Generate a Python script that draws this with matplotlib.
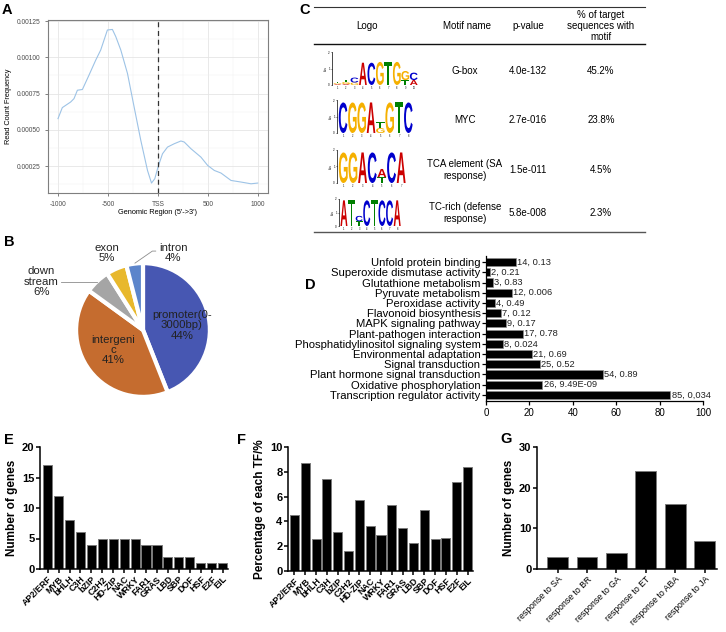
import matplotlib
matplotlib.use('Agg')
import matplotlib.pyplot as plt
from matplotlib.textpath import TextPath
from matplotlib.patches import PathPatch
from matplotlib.font_manager import FontProperties
from matplotlib.transforms import Affine2D

plt.rcParams['font.family'] = ['Liberation Sans', 'DejaVu Sans']

W, H = 726, 632

# ---- A: read count frequency around TSS ----
tss_pos = [-1000, -957, -873, -840, -806, -756, -690, -623, -573, -506, -456, -422,
           -372, -305, -239, -172, -105, -65, -32, 0, 45, 95, 162, 229, 262, 329,
           429, 496, 563, 630, 730, 830, 930, 997]
tss_freq = [0.000577, 0.000653, 0.000692, 0.000715, 0.000773, 0.000778, 0.000877,
            0.00098, 0.00105, 0.001188, 0.001192, 0.001142, 0.00105, 0.000888,
            0.000658, 0.000427, 0.00022, 0.000133, 0.000163, 0.000243, 0.000335,
            0.000381, 0.000404, 0.000423, 0.000416, 0.00037, 0.000312, 0.000255,
            0.00022, 0.000202, 0.000151, 0.00014, 0.000128, 0.000133]

# ---- B: peak annotation ----
pie_labels = ['promoter(0-\n3000bp)\n44%', 'intergeni\nc\n41%', 'down\nstream\n6%',
              'exon\n5%', 'intron\n4%']
pie_values = [44, 41, 6, 5, 4]
pie_colors = ['#4757b2', '#c56c2f', '#a5a5a5', '#e8b82c', '#5c85cb']

# ---- C: motif table ----
motif_names = ['G-box', 'MYC', 'TCA element (SA\nresponse)', 'TC-rich (defense\nresponse)']
motif_pvals = ['4.0e-132', '2.7e-016', '1.5e-011', '5.8e-008']
motif_pcts = ['45.2%', '23.8%', '4.5%', '2.3%']
logo_gbox = [[('A', 0.05), ('G', 0.06), ('T', 0.1)],
             [('A', 0.06), ('G', 0.12), ('T', 0.15)],
             [('G', 0.15), ('C', 0.3)],
             [('A', 1.35)], [('C', 1.35)], [('G', 1.4)], [('T', 1.4)], [('G', 1.4)],
             [('T', 0.3), ('G', 0.55)],
             [('A', 0.3), ('C', 0.45)]]
logo_myc = [[('C', 1.85)], [('G', 1.85)], [('G', 1.85)], [('A', 1.85)],
            [('G', 0.3), ('T', 0.35)],
            [('G', 1.85)], [('T', 1.85)], [('C', 1.85)]]
logo_tca = [[('G', 1.85)], [('G', 1.85)], [('A', 1.85)], [('C', 1.85)],
            [('T', 0.35), ('A', 0.5)],
            [('C', 1.85)], [('A', 1.85)]]
logo_tc = [[('A', 1.9)], [('T', 1.9)], [('T', 0.35), ('C', 0.4)],
           [('C', 1.9)], [('T', 1.9)], [('C', 1.9)], [('C', 1.9)], [('A', 1.9)]]
base_colors = {'A': '#cc0000', 'C': '#0000cc', 'G': '#f5b000', 'T': '#008000'}

# ---- D: enrichment ----
terms = ['Unfold protein binding', 'Superoxide dismutase activity', 'Glutathione metabolism',
         'Pyruvate metabolism', 'Peroxidase activity', 'Flavonoid biosynthesis',
         'MAPK signaling pathway', 'Plant-pathogen interaction',
         'Phosphatidylinositol signaling system', 'Environmental adaptation',
         'Signal transduction', 'Plant hormone signal transduction',
         'Oxidative phosphorylation', 'Transcription regulator activity']
term_counts = [14, 2, 3, 12, 4, 7, 9, 17, 8, 21, 25, 54, 26, 85]
term_pvals = ['0.13', '0.21', '0.83', '0.006', '0.49', '0.12', '0.17', '0.78', '0.024',
              '0.69', '0.52', '0.89', '9.49E-09', '0,034']

# ---- E / F: TF families ----
tf_families = ['AP2/ERF', 'MYB', 'bHLH', 'C3H', 'bZIP', 'C2H2', 'HD-ZIP', 'NAC', 'WRKY',
               'FAR1', 'GRAS', 'LBD', 'SBP', 'DOF', 'HSF', 'E2F', 'EIL']
tf_genes = [17, 12, 8, 6, 4, 5, 5, 5, 5, 4, 4, 2, 2, 2, 1, 1, 1]
tf_percent = [4.5, 8.7, 2.55, 7.45, 3.15, 1.6, 5.7, 3.6, 2.9, 5.3, 3.45, 2.25, 4.9,
              2.6, 2.65, 7.2, 8.35]

# ---- G: hormone responses ----
hormones = ['response to SA', 'response to BR', 'response to GA', 'response to ET',
            'response to ABA', 'response to JA']
hormone_genes = [3, 3, 4, 24, 16, 7]

fig = plt.figure(figsize=(W / 100, H / 100), dpi=100)


def px_axes(x0, y0, x1, y1):
    return fig.add_axes([x0 / W, 1 - y1 / H, (x1 - x0) / W, (y1 - y0) / H])


def panel_letter(x, y, s):
    fig.text(x / W, 1 - y / H, s, fontsize=10.5, fontweight='bold', va='center', ha='left')


# ---------------- A ----------------
ax = px_axes(48, 20, 268, 193)
ax.plot(tss_pos, tss_freq, color='#9dc3e6', lw=0.8)
ax.axvline(0, color='#333333', ls=(0, (4, 3)), lw=0.9)
ax.set_xlim(-1100, 1100)
ax.set_ylim(0.0000645, 0.001257)
ax.set_xticks([-1000, -500, 0, 500, 1000])
ax.set_xticklabels(['-1000', '-500', 'TSS', '500', '1000'])
ax.set_xticks([-750, -250, 250, 750], minor=True)
yt = [0.00025, 0.0005, 0.00075, 0.001, 0.00125]
ax.set_yticks(yt)
ax.set_yticklabels(['%.5f' % v for v in yt])
ax.set_yticks([0.000125, 0.000375, 0.000625, 0.000875, 0.001125], minor=True)
ax.grid(which='major', color='#e5e5e5', lw=0.6)
ax.grid(which='minor', color='#f0f0f0', lw=0.35)
ax.set_axisbelow(True)
for s in ax.spines.values():
    s.set_color('#7f7f7f')
    s.set_linewidth(0.8)
ax.tick_params(which='major', labelsize=4.8, colors='#4d4d4d', length=2, width=0.5)
ax.tick_params(which='minor', length=0)
ax.set_xlabel("Genomic Region (5'->3')", fontsize=5.3, labelpad=1)
ax.set_ylabel('Read Count Frequency', fontsize=5.3, labelpad=3)
panel_letter(2, 10, 'A')

# ---------------- B ----------------
ax = px_axes(40, 227, 246, 433)
ax.pie(pie_values, colors=pie_colors, startangle=90, counterclock=False,
       wedgeprops=dict(edgecolor='white', linewidth=3))
ax.set_xlim(-1.54, 1.54)
ax.set_ylim(-1.54, 1.54)
ax.set_aspect('equal')
lbl_xy = [(0.58, 0.07), (-0.45, -0.30), (-1.52, 0.72), (-0.54, 1.15), (0.45, 1.15)]
for (lx, ly), t in zip(lbl_xy, pie_labels):
    ax.text(lx, ly, t, ha='center', va='center', fontsize=8.2, color='#222222',
            linespacing=1.05)
ax.plot([-1.22, -0.69], [0.72, 0.72], color='#8c8c8c', lw=0.6)
ax.plot([0.19, 0.14, -0.12], [1.18, 1.18, 1.0], color='#8c8c8c', lw=0.6)
panel_letter(4, 242, 'B')

# ---------------- C ----------------
ax = px_axes(300, 0, 726, 240)
ax.set_xlim(300, 726)
ax.set_ylim(240, 0)
ax.axis('off')
ax.plot([314, 645], [6.5, 6.5], color='#333333', lw=0.8)
ax.plot([314, 645], [44, 44], color='#111111', lw=1.0)
ax.plot([314, 645], [232, 232], color='#555555', lw=1.0)
hdr_fs = 7
ax.text(367, 26, 'Logo', ha='center', va='center', fontsize=hdr_fs)
ax.text(467, 26, 'Motif name', ha='center', va='center', fontsize=hdr_fs)
ax.text(528, 26, 'p-value', ha='center', va='center', fontsize=hdr_fs)
ax.text(601, 26, '% of target\nsequences with\nmotif', ha='center', va='center',
        fontsize=hdr_fs, linespacing=1.15)
row_y = [71, 120, 170, 213]
for y, n, p, c in zip(row_y, motif_names, motif_pvals, motif_pcts):
    ax.text(465, y, n, ha='center', va='center', fontsize=hdr_fs, linespacing=1.2)
    ax.text(528, y, p, ha='center', va='center', fontsize=hdr_fs)
    ax.text(601, y, c, ha='center', va='center', fontsize=hdr_fs)

logo_fp = FontProperties(family='Liberation Sans', weight='bold')


def draw_logo(box, stacks):
    lax = px_axes(*box)
    n = len(stacks)
    for i, stack in enumerate(stacks):
        y = 0
        for ch, h in stack:
            tp = TextPath((0, 0), ch, size=1, prop=logo_fp)
            bb = tp.get_extents()
            tr = Affine2D().translate(-bb.x0, -bb.y0).scale(0.92 / bb.width, h / bb.height) \
                .translate(i + 1 - 0.46, y)
            lax.add_patch(PathPatch(tr.transform_path(tp), color=base_colors[ch], lw=0))
            y += h
    lax.set_xlim(0.35, n + 0.5)
    lax.set_ylim(0, 2)
    for s in ['top', 'right', 'bottom']:
        lax.spines[s].set_visible(False)
    lax.spines['left'].set_linewidth(0.5)
    lax.set_yticks([0, 1, 2])
    lax.set_xticks(range(1, n + 1))
    lax.tick_params(axis='y', labelsize=2.2, length=1, width=0.4, pad=0.5)
    lax.tick_params(axis='x', labelsize=1.8, length=0, pad=0.5)
    lax.set_ylabel('bits', fontsize=2.2, labelpad=0.5)
    lax.patch.set_alpha(0)


draw_logo((332, 52, 418, 85), logo_gbox)
draw_logo((337, 100, 413, 133), logo_myc)
draw_logo((337, 150, 406, 183), logo_tca)
draw_logo((339, 199, 401, 226), logo_tc)
panel_letter(299, 10, 'C')

# ---------------- D ----------------
ax = px_axes(486, 256, 703, 401)
ypos = list(range(len(terms)))
ax.barh(ypos, term_counts, height=0.8, color='black', edgecolor='#8c8c8c', lw=0.5)
for yv, c, p in zip(ypos, term_counts, term_pvals):
    ax.text(c + 0.5, yv, '%d, %s' % (c, p), va='center', ha='left', fontsize=6.7,
            color='#222222')
ax.set_ylim(len(terms) - 0.4, -0.6)
ax.set_xlim(0, 100)
ax.set_yticks(ypos)
ax.set_yticklabels(terms, fontsize=8.1)
ax.set_xticks([0, 20, 40, 60, 80, 100])
ax.tick_params(axis='x', labelsize=7, length=3, width=0.9, pad=2)
ax.tick_params(axis='y', length=3, width=0.9, pad=1)
for s in ['top', 'right']:
    ax.spines[s].set_visible(False)
for s in ['left', 'bottom']:
    ax.spines[s].set_linewidth(0.9)
panel_letter(305, 285, 'D')


# ---------------- E, F, G ----------------
def bar_panel(box, cats, vals, ylim, yticks, ylabel, xlim, width, label_bold, label_fs):
    bx = px_axes(*box)
    xs = list(range(len(cats)))
    bx.bar(xs, vals, width=width, color='black', edgecolor='#7a7a7a', lw=0.7)
    bx.set_xlim(*xlim)
    bx.set_ylim(*ylim)
    bx.set_yticks(yticks)
    bx.set_xticks(xs)
    bx.set_xticklabels(cats, rotation=45, ha='right', rotation_mode='anchor',
                       fontsize=label_fs, fontweight='bold' if label_bold else 'normal')
    for t in bx.get_yticklabels():
        t.set_fontweight('bold')
    bx.tick_params(axis='y', labelsize=8, length=3, width=1.1, pad=1)
    bx.tick_params(axis='x', length=3, width=1.1, pad=1)
    for s in ['top', 'right']:
        bx.spines[s].set_visible(False)
    for s in ['left', 'bottom']:
        bx.spines[s].set_linewidth(1.1)
    bx.set_ylabel(ylabel, fontsize=8.5, fontweight='bold', labelpad=3)
    return bx


bar_panel((40, 447, 228, 569), tf_families, tf_genes, (0, 20), [0, 5, 10, 15, 20],
          'Number of genes', (-0.7, 16.5), 0.84, True, 6.4)
panel_letter(4, 440, 'E')
bar_panel((288, 447, 473, 571), tf_families, tf_percent, (0, 10), [0, 2, 4, 6, 8, 10],
          'Percentage of each TF/%', (-0.6, 16.5), 0.84, True, 6.4)
panel_letter(237, 440, 'F')
bar_panel((537, 447, 717, 569), hormones, hormone_genes, (0, 30), [0, 10, 20, 30],
          'Number of genes', (-0.7, 5.42), 0.71, False, 6.3)
panel_letter(500, 439, 'G')

fig.savefig('out.png', dpi=100)
